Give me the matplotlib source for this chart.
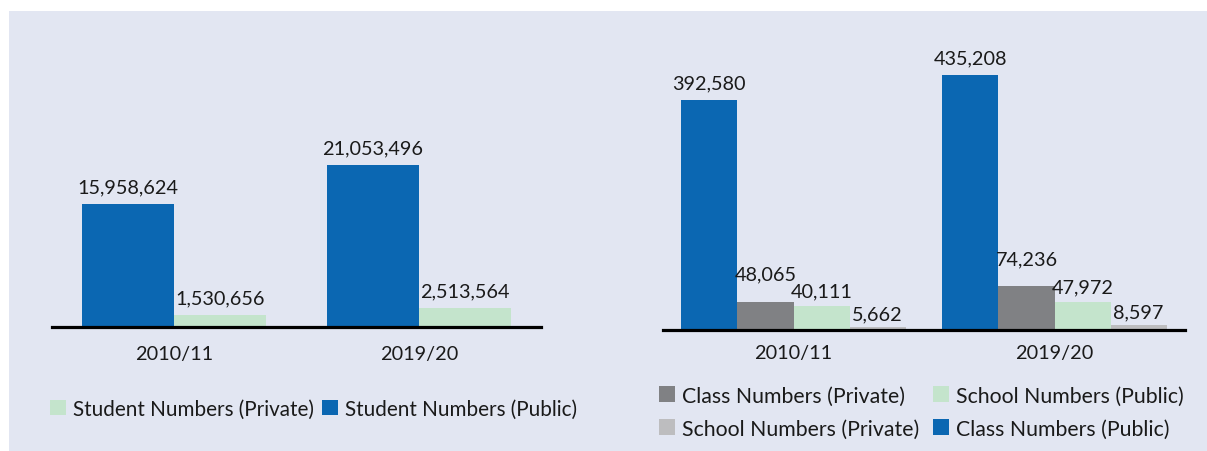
import numpy as np
import matplotlib
matplotlib.use('Agg')
import matplotlib.pyplot as plt
from matplotlib.patches import Patch, Rectangle

# ----- Data -----
years = ['2010/11', '2019/20']

students_public = [15958624, 21053496]
students_private = [1530656, 2513564]

classes_public = [392580, 435208]
classes_private = [48065, 74236]
schools_public = [40111, 47972]
schools_private = [5662, 8597]

# ----- Colours -----
BG = '#e2e6f2'
BLUE = '#0b67b2'
GREEN = '#c4e4cc'
DARK_GREY = '#808184'
LIGHT_GREY = '#bdbdbf'
TEXT = '#1a1a1a'

W, H = 1207, 452
FONT = 'Lato'
FS = 14.3
LEGEND_FS = 15.3

plt.rcParams['font.family'] = [FONT, 'DejaVu Sans']


def px_axes(fig, left, right, baseline, top):
    """Axes placed with pixel coordinates measured from the top-left corner."""
    return fig.add_axes([left / W, (H - baseline) / H,
                         (right - left) / W, (baseline - top) / H])


def style_axes(ax, pad):
    ax.set_facecolor('none')
    for side in ('left', 'right', 'top'):
        ax.spines[side].set_visible(False)
    ax.spines['bottom'].set_linewidth(2.3)
    ax.spines['bottom'].set_color('black')
    ax.set_yticks([])
    ax.set_xlim(-0.5, 1.5)
    ax.set_xticks(range(len(years)))
    ax.set_xticklabels(years, fontsize=FS, color=TEXT)
    ax.tick_params(axis='x', length=0, pad=pad)


def bars_with_labels(ax, x, values, width, color, lift=6):
    bars = ax.bar(x, values, width, color=color, linewidth=0)
    for rect, v in zip(bars, values):
        ax.annotate(f'{v:,}', (rect.get_x() + rect.get_width() / 2, rect.get_height()),
                    xytext=(0, lift), textcoords='offset points',
                    ha='center', va='bottom', fontsize=FS, color=TEXT)


def legend_column(fig, entries, x, y, fs=LEGEND_FS, spacing=0.62):
    handles = [Patch(facecolor=c, edgecolor='none') for c, _ in entries]
    labels = [lab for _, lab in entries]
    leg = fig.legend(handles, labels, loc='center left',
                     bbox_to_anchor=(x / W, 1 - y / H), frameon=False,
                     fontsize=fs, handlelength=0.75, handleheight=0.75,
                     handletextpad=0.35, borderpad=0, borderaxespad=0,
                     labelspacing=spacing)
    for t in leg.get_texts():
        t.set_color(TEXT)
    return leg


fig = plt.figure(figsize=(W / 100, H / 100), dpi=100, facecolor='white')
fig.patches.append(Rectangle((9 / W, 0), 1 - 9 / W, 1 - 12 / H,
                             transform=fig.transFigure, facecolor=BG,
                             edgecolor='none', zorder=-10))

x = np.arange(len(years))

# Student numbers
ax1 = px_axes(fig, 52, 541, 328, 40)
style_axes(ax1, pad=13)
ax1.set_ylim(0, 37.35e6)
w1 = 0.377
bars_with_labels(ax1, x - w1 / 2, students_public, w1, BLUE)
bars_with_labels(ax1, x + w1 / 2, students_private, w1, GREEN)

# Class and school numbers
ax2 = px_axes(fig, 663, 1185, 331, 40)
style_axes(ax2, pad=10)
ax2.set_ylim(0, 496600)
w2 = 0.215
bars_with_labels(ax2, x - 1.5 * w2, classes_public, w2, BLUE)
bars_with_labels(ax2, x - 0.5 * w2, classes_private, w2, DARK_GREY, lift=14)
bars_with_labels(ax2, x + 0.5 * w2, schools_public, w2, GREEN, lift=5)
bars_with_labels(ax2, x + 1.5 * w2, schools_private, w2, LIGHT_GREY, lift=3)

# Legends
legend_column(fig, [(GREEN, 'Student Numbers (Private)')], 50, 410, fs=14.9)
legend_column(fig, [(BLUE, 'Student Numbers (Public)')], 322, 410, fs=14.9)
legend_column(fig, [(DARK_GREY, 'Class Numbers (Private)'),
                    (LIGHT_GREY, 'School Numbers (Private)')], 659, 413)
legend_column(fig, [(GREEN, 'School Numbers (Public)'),
                    (BLUE, 'Class Numbers (Public)')], 933, 413)

fig.savefig('out.png', dpi=100, facecolor=fig.get_facecolor())
